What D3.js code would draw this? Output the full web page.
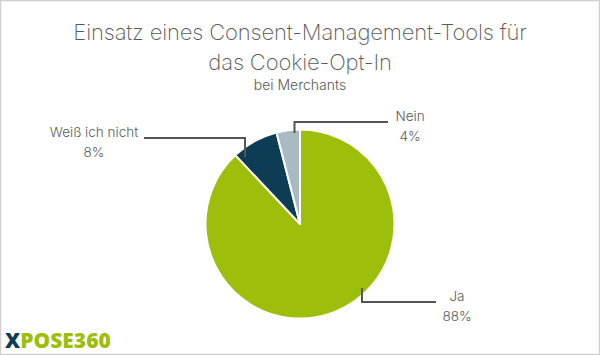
<!DOCTYPE html>
<html><head><meta charset="utf-8">
<script src="https://cdn.jsdelivr.net/npm/d3@7"></script>
<style>
html,body{margin:0;padding:0;background:#fff;}
svg{display:block;}
</style></head>
<body>
<svg id="chart" width="600" height="355"></svg>
<script>
const categories = ["Ja", "Weiß ich nicht", "Nein"];
const values = [88, 8, 4];
const valueLabels = ["88%", "8%", "4%"];
const colors = ["#9dbf0b", "#0d3d55", "#a9bac3"];
const titleLines = ["Einsatz eines Consent-Management-Tools für", "das Cookie-Opt-In"];
const subtitle = "bei Merchants";

const svg = d3.select("#chart");
const W = 600, H = 355;
svg.append("rect").attr("x",0.5).attr("y",0.5).attr("width",W-1).attr("height",H-1)
  .attr("fill","#fff").attr("stroke","#d0d0d0").attr("stroke-width",1.5);

const font = "Inter, 'Open Sans', sans-serif";
const txt = "#595959";

titleLines.forEach((t,i)=>{
  svg.append("text").attr("x",300).attr("y",40+i*30).attr("text-anchor","middle")
    .attr("font-family",font).attr("font-weight",200).attr("font-size",22)
    .attr("letter-spacing",-0.15).attr("fill",txt).text(t);
});
svg.append("text").attr("x",300).attr("y",90).attr("text-anchor","middle")
  .attr("font-family",font).attr("font-weight",300).attr("font-size",14).attr("fill",txt).text(subtitle);

const cx = 300, cy = 224, r = 94.5;
const pie = d3.pie().sort(null).value(d=>d);
const arcs = pie(values);
const arc = d3.arc().innerRadius(0).outerRadius(r);
const g = svg.append("g").attr("transform",`translate(${cx},${cy})`);
g.selectAll("path").data(arcs).enter().append("path")
  .attr("d",arc).attr("fill",(d,i)=>colors[i])
  .attr("stroke","#fff").attr("stroke-width",2).attr("stroke-linejoin","round");

// leader lines: anchor on slice, elbow, horizontal
const leaders = [
  {i:0, px:362, py:288, elbowY:302, endX:436, lx:457},
  {i:1, px:245, py:157, elbowY:138, endX:144, lx:94},
  {i:2, px:294.5, py:133, elbowY:122, endX:388, lx:410}
];
leaders.forEach(L=>{
  const path = d3.path();
  path.moveTo(L.px, L.py); path.lineTo(L.px, L.elbowY); path.lineTo(L.endX, L.elbowY);
  svg.append("path").attr("d",path.toString()).attr("fill","none")
    .attr("stroke","#555").attr("stroke-width",2);
  svg.append("text").attr("x",L.lx).attr("y",L.elbowY-1).attr("text-anchor","middle")
    .attr("font-family",font).attr("font-weight",300).attr("font-size",13.5).attr("fill",txt)
    .text(categories[L.i]);
  svg.append("text").attr("x",L.lx).attr("y",L.elbowY+19).attr("text-anchor","middle")
    .attr("font-family",font).attr("font-weight",300).attr("font-size",13.5).attr("fill",txt)
    .text(valueLabels[L.i]);
});

// logo
const logo = svg.append("text").attr("x",5).attr("y",348)
  .attr("font-family","'Open Sans', sans-serif").attr("font-weight",800).attr("font-size",21);
logo.append("tspan").attr("fill","#0d3d55").text("X");
logo.append("tspan").attr("fill","#9dbf0b").text("POSE360");
</script>
</body></html>
